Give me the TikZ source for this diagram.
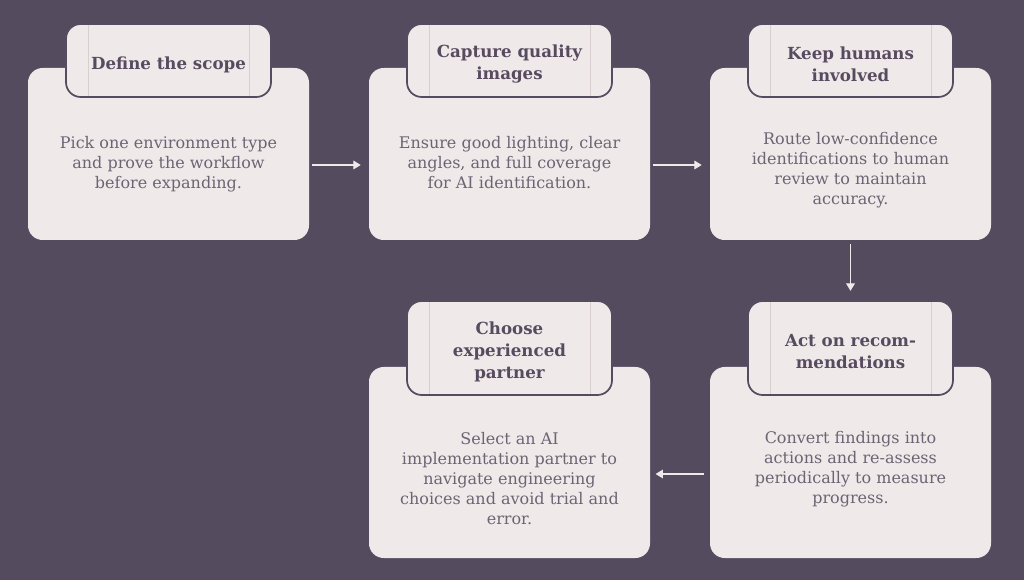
\documentclass[tikz,border=0pt]{standalone}
\usepackage{fontspec}
\setmainfont{DejaVu Serif}
\usetikzlibrary{positioning,arrows.meta}

\definecolor{plum}{HTML}{554B5F}
\definecolor{paper}{HTML}{F0E9E9}
\definecolor{ink}{HTML}{574B60}
\definecolor{softink}{HTML}{6E6373}
\definecolor{rule}{HTML}{D9CFCF}

\tikzset{
  card/.style={fill=paper,rounded corners=11pt,minimum width=210.75pt,minimum height=129pt},
  tallcard/.style={card,minimum height=143.25pt},
  tab/.style={fill=paper,draw=ink,line width=1.3pt,rounded corners=11pt,
    minimum width=153.75pt,minimum height=54.75pt,
    path picture={
      \draw[rule,line width=0.6pt]
        ([xshift=16.5pt]path picture bounding box.north west) --
        ([xshift=16.5pt]path picture bounding box.south west);
      \draw[rule,line width=0.6pt]
        ([xshift=-16.5pt]path picture bounding box.north east) --
        ([xshift=-16.5pt]path picture bounding box.south east);}},
  talltab/.style={tab,minimum height=70.5pt},
  title/.style={text=ink,font=\bfseries\fontsize{12.5}{16.5}\selectfont,align=center,yshift=-3pt},
  body/.style={text=softink,font=\fontsize{12}{15}\selectfont,align=center,yshift=-1.5pt},
  flow/.style={draw=paper,line width=0.8pt,-{Triangle[length=5.5pt,width=6.5pt]}},
}

\begin{document}
\begin{tikzpicture}[x=0.75pt,y=-0.75pt]
\fill[plum] (0,0) rectangle (1024,580);
\useasboundingbox (0,0) rectangle (1024,580);

% top row
\node[card] (scope) at (168.5,154) {};
\node[card] (images) at (509.5,154) {};
\node[card] (humans) at (850.5,154) {};
\node[tab] (scopetab) at (168.5,60.5) {};
\node[tab] (imagestab) at (509.5,60.5) {};
\node[tab] (humanstab) at (850.5,60.5) {};
\node[title] at (scopetab) {Define the scope};
\node[title] at (imagestab) {Capture quality\\images};
\node[title] at (humanstab) {Keep humans\\involved};
\node[body] at (168.5,162) {Pick one environment type\\and prove the workflow\\before expanding.};
\node[body] at (509.5,161) {Ensure good lighting, clear\\angles, and full coverage\\for AI identification.};
\node[body] at (850.5,168) {Route low-confidence\\identifications to human\\review to maintain\\accuracy.};

% bottom row
\node[tallcard] (act) at (850.5,462.5) {};
\node[tallcard] (partner) at (509.5,462.5) {};
\node[talltab] (acttab) at (850.5,348) {};
\node[talltab] (partnertab) at (509.5,348) {};
\node[title] at (acttab) {Act on recom-\\mendations};
\node[title] at (partnertab) {Choose\\experienced\\partner};
\node[body] at (850.5,467) {Convert findings into\\actions and re-assess\\periodically to measure\\progress.};
\node[body] at (509.5,477) {Select an AI\\implementation partner to\\navigate engineering\\choices and avoid trial and\\error.};

% arrows
\draw[flow,shorten <=2pt,shorten >=6pt] (scope.east |- 0,165) -- (images.west |- 0,165);
\draw[flow,shorten <=2pt,shorten >=6pt] (images.east |- 0,165) -- (humans.west |- 0,165);
\draw[flow,shorten <=3pt,shorten >=7pt] (humans) -- (acttab);
\draw[flow,shorten <=4pt,shorten >=4pt] (act.west |- 0,474) -- (partner.east |- 0,474);
\end{tikzpicture}
\end{document}
